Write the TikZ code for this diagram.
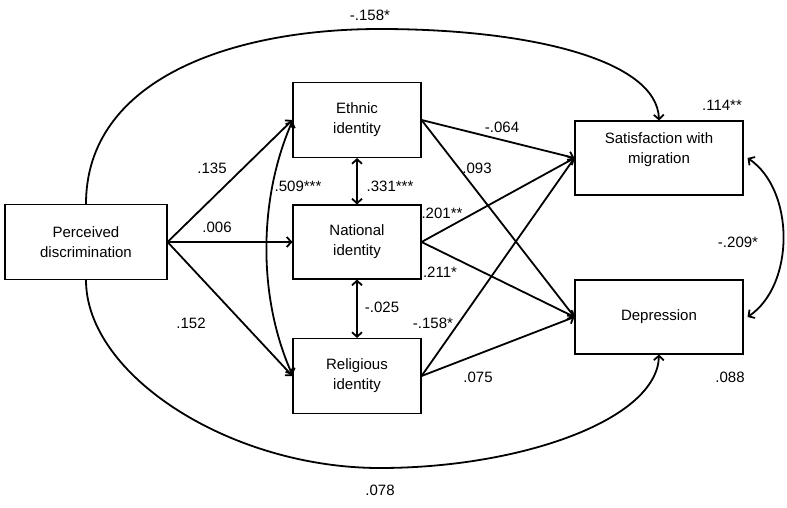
\documentclass[tikz,border=0pt]{standalone}
\usepackage{fontspec}
\setmainfont{Liberation Sans}
\usetikzlibrary{arrows.meta}
\begin{document}
\begin{tikzpicture}[x=1pt,y=-1pt,
  box/.style={draw, line width=1.1pt, minimum width=#1, inner sep=0pt, align=center, font=\fontsize{15}{20}\selectfont},
  box/.default=128pt,
  lbl/.style={inner sep=0pt, font=\fontsize{15}{18}\selectfont},
  path/.style={line width=1.8pt, -{Straight Barb[length=4.5pt,width=10pt,line width=1.8pt]}},
  cov/.style={line width=1.8pt, {Straight Barb[length=4.5pt,width=10pt,line width=1.8pt]}-{Straight Barb[length=4.5pt,width=10pt,line width=1.8pt]}}
]
\useasboundingbox (0,0) rectangle (787,508);
\fill[white] (0,0) rectangle (787,508);

\node[box=162pt, minimum height=75pt] (pd) at (86,242) {Perceived\\discrimination};
\node[box, minimum height=75pt] (eth) at (357,120) {Ethnic\\identity};
\node[box, minimum height=74pt] (nat) at (357,242) {National\\identity};
\node[box, minimum height=75pt] (rel) at (357,376) {Religious\\identity};
\node[box=168pt, minimum height=74pt] (sat) at (659,158) {};
\node[lbl, align=center, font=\fontsize{15}{20}\selectfont] (sattext) at ([yshift=8pt]sat.center) {Satisfaction with\\migration};
\node[box=168pt, minimum height=74pt] (dep) at (659,317) {Depression};

% paths from perceived discrimination
\draw[path] (pd.east) -- (eth.west);
\draw[path] (pd.east) -- (nat.west);
\draw[path] (pd.east) -- (rel.west);

% paths to outcomes
\draw[path] (eth.east) -- (sat.west);
\draw[path] (eth.east) -- (dep.west);
\draw[path] (nat.east) -- (sat.west);
\draw[path] (nat.east) -- (dep.west);
\draw[path] (rel.east) -- (sat.west);
\draw[path] (rel.east) -- (dep.west);

% covariances among identities
\draw[cov] (eth.south) -- (nat.north);
\draw[cov] (nat.south) -- (rel.north);
\draw[cov] ([yshift=-1pt]eth.west) .. controls (258,200) and (258,298) .. ([yshift=1pt]rel.west);

% direct effects (curved)
\coordinate (toptop) at (380,29);
\coordinate (botbot) at (380,468);
\draw[line width=1.8pt] (pd.north) .. controls (86,80) and (230,29) .. (toptop);
\draw[path] (toptop) .. controls (530,29) and (657,60) .. (sat.north);
\draw[line width=1.8pt] (pd.south) .. controls (86,375) and (230,468) .. (botbot);
\draw[path] (botbot) .. controls (520,468) and (657,420) .. (dep.south);

% residual covariance
\draw[cov] ([xshift=4pt]sat.east) .. controls (795,190) and (795,285) .. ([xshift=4pt]dep.east);

% labels
\node[lbl] (l1) at (370,15) {-.158*};
\node[lbl] (l2) at (722,105) {.114**};
\node[lbl] (l3) at (212,168) {.135};
\node[lbl] (l4) at (217,227) {.006};
\node[lbl] (l5) at (191,323) {.152};
\node[lbl] (l6) at (298,186) {.509***};
\node[lbl] (l7) at (390,186) {.331***};
\node[lbl] (l8) at (382,307) {-.025};
\node[lbl] (l9) at (502,127) {-.064};
\node[lbl] (l10) at (477,168) {.093};
\node[lbl] (l11) at (442,213) {.201**};
\node[lbl] (l12) at (440,272) {.211*};
\node[lbl] (l13) at (433,323) {-.158*};
\node[lbl] (l14) at (478,377) {.075};
\node[lbl] (l15) at (738,242) {-.209*};
\node[lbl] (l16) at (730,377) {.088};
\node[lbl] (l17) at (380,490) {.078};
\end{tikzpicture}
\end{document}
